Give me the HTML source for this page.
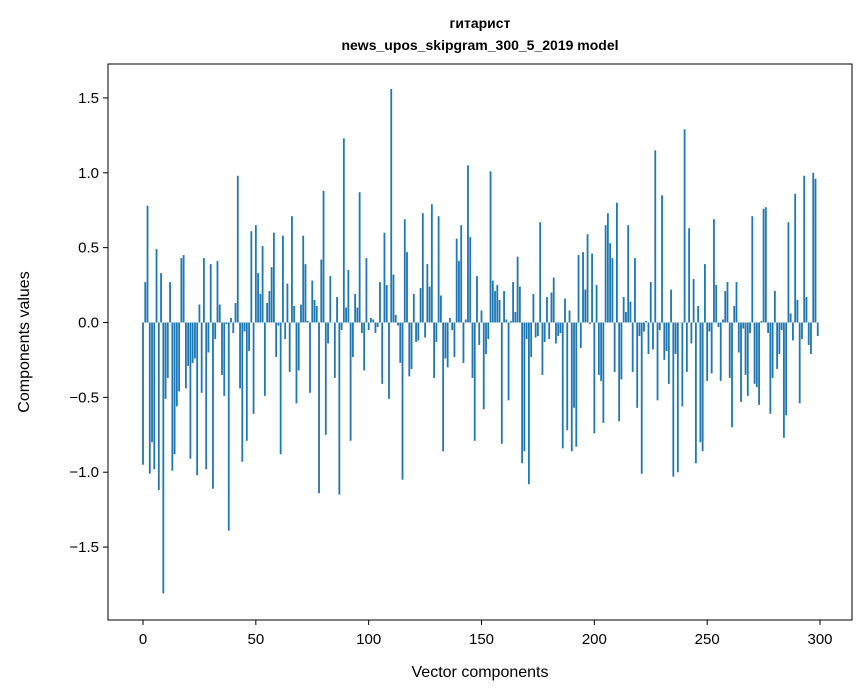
<!DOCTYPE html>
<html><head><meta charset="utf-8"><style>
body{margin:0;background:#fff;}
svg{display:block;font-family:"Liberation Sans","DejaVu Sans",sans-serif;}
</style></head><body>
<svg id="chart" width="867" height="696" viewBox="0 0 867 696" xmlns="http://www.w3.org/2000/svg">
<rect width="867" height="696" fill="#fff"/>
<text x="480" y="28" text-anchor="middle" font-size="14" font-weight="bold">гитарист</text>
<text x="480" y="50" text-anchor="middle" font-size="14" font-weight="bold">news_upos_skipgram_300_5_2019 model</text>
<g id="bars"></g>
<g id="xticks"></g>
<g id="yticks"></g>
<rect x="108" y="64" width="744" height="556" fill="none" stroke="#000" stroke-width="1"/>
<text x="480" y="677" text-anchor="middle" font-size="16">Vector components</text>
<text x="0" y="0" transform="translate(29,342) rotate(-90)" text-anchor="middle" font-size="16">Components values</text>
</svg>
<script>
const values = [-0.95,0.27,0.78,-1.01,-0.80,-0.98,0.49,-1.12,0.33,-1.81,-0.51,-0.37,0.27,-0.99,-0.88,-0.56,-0.46,0.43,0.45,-0.44,-0.29,-0.91,-0.27,-0.24,-1.02,0.12,-0.47,0.43,-0.98,-0.20,0.39,-1.11,-0.11,0.41,0.12,-0.35,-0.49,
-0.01,-1.39,0.03,-0.07,0.13,0.98,-0.44,-0.93,-0.06,-0.79,-0.19,0.61,-0.61,0.65,0.33,0.19,0.51,-0.49,0.13,0.21,0.37,0.60,-0.23,-0.02,-0.88,0.58,-0.11,0.26,-0.33,0.71,0.11,-0.54,-0.32,0.12,0.58,0.39,0.01,
-0.47,0.28,0.15,0.11,-1.14,0.42,0.88,-0.75,-0.14,0.31,0.0,-0.37,0.17,-1.15,-0.05,1.23,0.10,0.35,-0.79,-0.23,0.19,0.10,0.87,-0.07,-0.32,0.43,-0.05,0.03,0.02,-0.07,-0.03,0.27,-0.41,0.60,0.25,-0.51,1.56,0.32,0.05,-0.02,
-0.27,-1.05,0.69,0.47,-0.36,-0.31,0.19,-0.13,-0.12,0.23,0.73,-0.10,0.39,0.24,0.79,-0.37,-0.13,0.71,0.18,-0.86,-0.24,-0.30,0.03,-0.05,-0.23,0.56,0.41,0.65,-0.27,0.02,1.05,0.57,-0.37,-0.79,0.31,-0.15,0.08,-0.58,
-0.21,-0.11,1.01,0.28,0.21,0.25,0.15,-0.81,0.21,0.02,-0.52,0.01,0.27,0.07,0.44,0.24,-0.94,-0.86,-0.11,-1.08,-0.23,0.19,-0.10,-0.09,0.67,-0.35,-0.13,0.17,-0.11,0.20,0.30,-0.14,-0.09,-0.07,-0.84,0.16,-0.72,0.08,
-0.86,-0.57,-0.83,0.45,-0.17,0.47,0.22,0.59,-0.01,0.46,-0.74,0.25,-0.35,-0.39,-0.67,0.65,0.73,0.53,0.43,-0.33,0.80,-0.66,-0.38,0.17,0.07,0.65,0.14,-0.33,0.43,-0.57,-0.09,-1.01,-0.06,0.01,-0.21,0.27,-0.18,1.15,
-0.52,-0.05,0.85,-0.25,-0.19,-0.41,0.22,-1.03,-0.21,-1.00,0.0,-0.56,1.29,-0.33,0.63,-0.14,0.29,-0.94,0.11,-0.80,-0.86,0.39,-0.39,-0.06,-0.34,0.69,0.25,-0.03,-0.39,0.02,0.21,0.27,-0.37,-0.70,0.11,0.27,-0.20,-0.53,
-0.04,-0.35,-0.49,-0.07,0.71,-0.41,-0.43,-0.55,0.01,0.76,0.77,-0.07,-0.61,-0.37,0.21,-0.31,-0.21,-0.05,-0.77,-0.62,0.67,0.06,-0.12,0.86,0.15,-0.54,-0.11,0.98,0.17,-0.15,-0.21,1.00,0.96,-0.09];
const xTicks = [0,50,100,150,200,250,300];
const yTicks = [-1.5,-1.0,-0.5,0.0,0.5,1.0,1.5];
const yTickLabels = ["\u22121.5","\u22121.0","\u22120.5","0.0","0.5","1.0","1.5"];

const NS = "http://www.w3.org/2000/svg";
function xScale(v){ return 143 + v * (677/300); }
function yScale(v){ return 322.5 - v * 149.7; }
const bw = 0.8 * (677/300);
const barsG = document.getElementById('bars');
values.forEach((v,i)=>{
  const r = document.createElementNS(NS,'rect');
  const y0 = yScale(0), y1 = yScale(v);
  r.setAttribute('x', xScale(i) - bw/2);
  r.setAttribute('y', Math.min(y0,y1));
  r.setAttribute('width', bw);
  r.setAttribute('height', Math.max(Math.abs(y1-y0),0.3));
  r.setAttribute('fill', '#1f77b4');
  
  
  barsG.appendChild(r);
});
const xg = document.getElementById('xticks');
xTicks.forEach(t=>{
  const x = xScale(t);
  const l = document.createElementNS(NS,'line');
  l.setAttribute('x1',x); l.setAttribute('x2',x); l.setAttribute('y1',620); l.setAttribute('y2',625);
  l.setAttribute('stroke','#000');
  
  
  xg.appendChild(l);
  const tx = document.createElementNS(NS,'text');
  tx.setAttribute('x',x); tx.setAttribute('y',644); tx.setAttribute('text-anchor','middle'); tx.setAttribute('font-size','15');
  tx.textContent = String(t);
  
  
  xg.appendChild(tx);
});
const yg = document.getElementById('yticks');
yTicks.forEach((t,i)=>{
  const y = yScale(t);
  const l = document.createElementNS(NS,'line');
  l.setAttribute('x1',103); l.setAttribute('x2',108); l.setAttribute('y1',y); l.setAttribute('y2',y);
  l.setAttribute('stroke','#000');
  
  
  yg.appendChild(l);
  const tx = document.createElementNS(NS,'text');
  tx.setAttribute('x',99); tx.setAttribute('y',y+5); tx.setAttribute('text-anchor','end'); tx.setAttribute('font-size','15');
  tx.textContent = yTickLabels[i];
  
  
  yg.appendChild(tx);
});
</script>
</body></html>
